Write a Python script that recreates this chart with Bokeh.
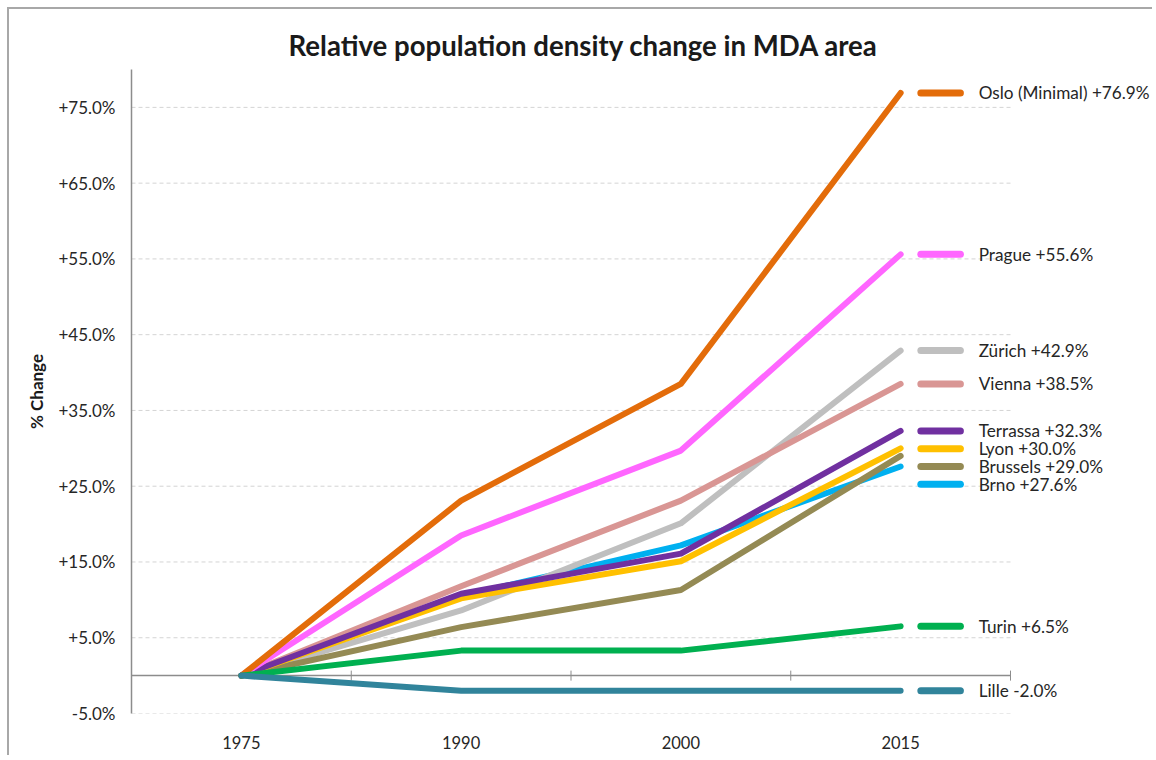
import math
from bokeh.plotting import figure
from bokeh.models import Range1d, FixedTicker, Label
from bokeh.embed import file_html
from bokeh.resources import INLINE

# ---- data ----
years = ["1975", "1990", "2000", "2015"]
cities = ["Oslo (Minimal)", "Prague", "Zürich", "Vienna", "Terrassa",
          "Lyon", "Brussels", "Brno", "Turin", "Lille"]
oslo = [0.0, 23.1, 38.5, 76.9]
prague = [0.0, 18.5, 29.7, 55.6]
zurich = [0.0, 8.6, 20.1, 42.9]
vienna = [0.0, 11.8, 23.1, 38.5]
terrassa = [0.0, 10.8, 16.1, 32.3]
lyon = [0.0, 10.2, 15.1, 30.0]
brussels = [0.0, 6.4, 11.3, 29.0]
brno = [0.0, 10.5, 17.2, 27.6]
turin = [0.0, 3.3, 3.3, 6.5]
lille = [0.0, -2.0, -2.0, -2.0]
y_ticks = [-5, 5, 15, 25, 35, 45, 55, 65, 75]

series = [oslo, prague, zurich, vienna, terrassa, lyon, brussels, brno, turin, lille]
colors = ["#E36C0A", "#FF66FF", "#BFBFBF", "#D99694", "#7030A0",
          "#FFC000", "#948A54", "#00B0F0", "#00B050", "#31849B"]
draw_order = [7, 2, 3, 6, 5, 4, 1, 0, 8, 9]

FONT = "Lato"
TXT = "#262626"
AXIS = "#8c8c8c"

xs = list(range(len(years)))
last = len(years) - 1

# layout (pixels)
W, H = 1145, 748
LEFT, TOP, BOTTOM = 122, 60, 44
AXIS_W = 879                      # width of the category area
frame_w = W - LEFT
x_lo = -0.5
x_hi_axis = last + 0.5
unit = AXIS_W / (x_hi_axis - x_lo)
x_hi = x_lo + frame_w / unit      # frame extends right so end labels are not clipped

p = figure(width=W, height=H,
           x_range=Range1d(x_lo, x_hi), y_range=Range1d(-5, 80),
           output_backend="svg", toolbar_location=None,
           min_border_left=LEFT, min_border_right=0,
           min_border_top=TOP, min_border_bottom=BOTTOM)
p.styles = {"margin-left": "7px", "margin-top": "7px",
            "border-top": "2px solid #a8a8a8", "border-left": "2px solid #a8a8a8"}
p.outline_line_color = None
p.background_fill_color = "white"
p.border_fill_color = "white"

# title
p.title.text = "Relative population density change in MDA area"
p.title.align = "left"
p.title.offset = 157
p.title.standoff = 16
p.title.text_font = FONT
p.title.text_font_style = "bold"
p.title.text_font_size = "27.6px"
p.title.text_color = "#1a1a1a"

# grid (drawn only over the category area)
p.xgrid.visible = False
p.ygrid.visible = False
p.segment(x0=[x_lo] * len(y_ticks), y0=y_ticks, x1=[x_hi_axis] * len(y_ticks), y1=y_ticks,
          line_color="#d4d4d4", line_dash="4 3", line_width=1, level="underlay")

# y axis
yax = p.yaxis[0]
yax.ticker = FixedTicker(ticks=y_ticks)
yax.major_label_overrides = {t: f"{t:+.1f}%" for t in y_ticks}
yax.major_tick_line_color = None
yax.minor_tick_line_color = None
yax.major_tick_out = 0
yax.major_tick_in = 0
yax.major_label_standoff = 16
yax.major_label_text_font = FONT
yax.major_label_text_font_size = "17px"
yax.major_label_text_color = TXT
yax.axis_line_color = AXIS
yax.axis_line_width = 1.5
yax.axis_label = "% Change"
yax.axis_label_text_font = FONT
yax.axis_label_text_font_style = "bold"
yax.axis_label_text_font_size = "17px"
yax.axis_label_text_color = "#1a1a1a"
yax.axis_label_standoff = 8

# bottom category labels
xax = p.xaxis[0]
xax.ticker = FixedTicker(ticks=xs)
xax.major_label_overrides = {i: y for i, y in enumerate(years)}
xax.axis_line_color = None
xax.major_tick_line_color = None
xax.minor_tick_line_color = None
xax.major_tick_out = 0
xax.major_tick_in = 0
xax.major_label_standoff = 22
xax.major_label_text_font = FONT
xax.major_label_text_font_size = "16.5px"
xax.major_label_text_color = TXT

# zero line with category-boundary ticks
p.segment(x0=[x_lo], y0=[0], x1=[x_hi_axis], y1=[0],
          line_color=AXIS, line_width=1.5, level="underlay")
p.scatter([i + 0.5 for i in xs], [0] * len(xs), marker="dash", size=10,
          angle=math.pi / 2, line_color=AXIS, line_width=1, level="underlay")

# lines
for i in draw_order:
    p.line(xs, series[i], line_color=colors[i], line_width=6,
           line_cap="round", line_join="round")

# end labels with de-overlap
gap = 2.35
order = sorted(range(len(series)), key=lambda i: -series[i][-1])
label_y = {}
prev = None
for i in order:
    v = series[i][-1]
    if prev is not None and prev - v < gap:
        v = prev - gap
    label_y[i] = v
    prev = v

for i in range(len(series)):
    ly = label_y[i]
    p.segment(x0=[last + 0.092], y0=[ly], x1=[last + 0.272], y1=[ly],
              line_color=colors[i], line_width=7, line_cap="round")
    p.add_layout(Label(x=last + 0.355, y=ly, x_units="data", y_units="data",
                       text=f"{cities[i]} {series[i][-1]:+.1f}%",
                       text_font=FONT, text_font_size="17.2px",
                       text_color=TXT, text_baseline="middle"))

open("out.html", "w").write(file_html(p, INLINE))
